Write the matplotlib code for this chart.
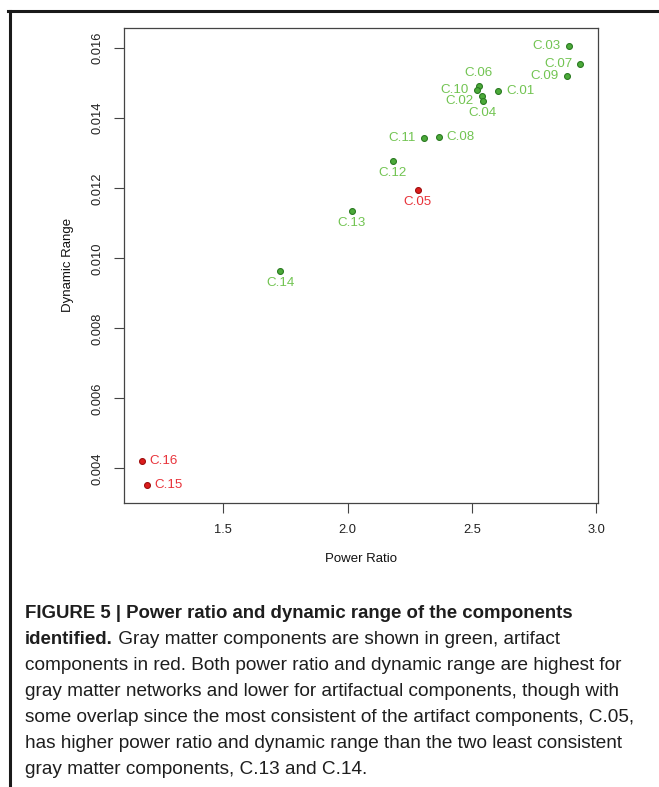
import numpy as np
import matplotlib.pyplot as plt
from matplotlib.lines import Line2D

# Component data
labels = ['C.01', 'C.02', 'C.03', 'C.04', 'C.05', 'C.06', 'C.07', 'C.08',
          'C.09', 'C.10', 'C.11', 'C.12', 'C.13', 'C.14', 'C.15', 'C.16']
power_ratio = [2.606, 2.541, 2.890, 2.544, 2.282, 2.527, 2.937, 2.366,
               2.882, 2.521, 2.306, 2.182, 2.017, 1.729, 1.191, 1.171]
dynamic_range = [0.014787, 0.014635, 0.016074, 0.014484, 0.011946, 0.014921,
                 0.015559, 0.013462, 0.015207, 0.014807, 0.013442, 0.012784,
                 0.011353, 0.009628, 0.003514, 0.004220]
is_artifact = [False, False, False, False, True, False, False, False,
               False, False, False, False, False, False, True, True]

# label side for each point (R "pos" style)
label_side = ['right', 'left', 'left', 'below', 'below', 'above', 'left', 'right',
              'left', 'left', 'left', 'below', 'below', 'below', 'right', 'right']

x_ticks = [1.5, 2.0, 2.5, 3.0]
y_ticks = [0.004, 0.006, 0.008, 0.010, 0.012, 0.014, 0.016]

green_fill, green_edge, green_text = '#4caa3a', '#2b7a22', '#72c452'
red_fill, red_edge, red_text = '#dc1c1c', '#9e1010', '#e8333a'

fig = plt.figure(figsize=(6.59, 7.87), dpi=100)
ax = fig.add_axes([124/659, 1 - 503/787, 474/659, 475/787])

x = np.array(power_ratio)
y = np.array(dynamic_range)
art = np.array(is_artifact)

ax.scatter(x[~art], y[~art], s=18, c=green_fill, edgecolors=green_edge, linewidths=0.8, zorder=3)
ax.scatter(x[art], y[art], s=18, c=red_fill, edgecolors=red_edge, linewidths=0.8, zorder=3)

offsets = {'left': (-5.8, 0, 'right', 'center'),
           'right': (5.8, 0, 'left', 'center'),
           'above': (0, 9.0, 'center', 'center'),
           'below': (0, -8.6, 'center', 'center')}
for i, lab in enumerate(labels):
    dx, dy, ha, va = offsets[label_side[i]]
    if lab == 'C.02':
        dy -= 3.5
    ax.annotate(lab, (x[i], y[i]), xytext=(dx, dy), textcoords='offset points',
                ha=ha, va=va, fontsize=9.6, family='Liberation Sans',
                color=red_text if is_artifact[i] else green_text)

# R style axis extension of 4%
xr = x.max() - x.min()
yr = y.max() - y.min()
ax.set_xlim(x.min() - 0.04 * xr, x.max() + 0.04 * xr)
ax.set_ylim(y.min() - 0.04 * yr, y.max() + 0.04 * yr)

ax.set_xticks(x_ticks)
ax.set_xticklabels(['%.1f' % t for t in x_ticks])
ax.set_yticks(y_ticks)
ax.set_yticklabels(['%.3f' % t for t in y_ticks], rotation=90, va='center')
ax.tick_params(direction='out', length=7, width=0.8, color='#444444',
               labelsize=9.3, labelcolor='#222222', pad=8)
for lab in ax.get_xticklabels() + ax.get_yticklabels():
    lab.set_family('Liberation Sans')
for sp in ax.spines.values():
    sp.set_color('#444444')
    sp.set_linewidth(0.9)

fig.text(361/659, 1 - 559/787, 'Power Ratio', ha='center', va='center',
         fontsize=9.5, family='Liberation Sans', color='#111111')
fig.text(68/659, 1 - 265/787, 'Dynamic Range', ha='center', va='center',
         rotation=90, fontsize=9.5, family='Liberation Sans', color='#111111')

# outer frame (top and left)
fig.add_artist(Line2D([8/659, 1], [1 - 10.5/787, 1 - 10.5/787], color='#1a1a1a', lw=2.2))
fig.add_artist(Line2D([9.5/659, 9.5/659], [0, 1 - 10.5/787], color='#1a1a1a', lw=2.2))

# caption
cap_font = 'Liberation Sans'
bold_size = 13.4
cap_size = 13.7
cap_color = '#1e1e1e'
x0 = 25/659
line_y = [613, 639, 665, 691, 717, 743, 769]
fig.text(x0, 1 - line_y[0]/787, 'FIGURE 5 | Power ratio and dynamic range of the components',
         ha='left', va='center', fontsize=bold_size, fontweight='bold', family=cap_font, color=cap_color)
bold2 = fig.text(x0, 1 - line_y[1]/787, 'identified.', ha='left', va='center', fontsize=bold_size,
                 fontweight='bold', family=cap_font, color=cap_color)
renderer = fig.canvas.get_renderer()
bb = bold2.get_window_extent(renderer)
fig.text(bb.x1 / fig.bbox.width, 1 - line_y[1]/787,
         ' Gray matter components are shown in green, artifact',
         ha='left', va='center', fontsize=cap_size, family=cap_font, color=cap_color)
rest = ['components in red. Both power ratio and dynamic range are highest for',
        'gray matter networks and lower for artifactual components, though with',
        'some overlap since the most consistent of the artifact components, C.05,',
        'has higher power ratio and dynamic range than the two least consistent',
        'gray matter components, C.13 and C.14.']
for yy, line in zip(line_y[2:], rest):
    fig.text(x0, 1 - yy/787, line, ha='left', va='center', fontsize=cap_size,
             family=cap_font, color=cap_color)

fig.savefig('out.png', dpi=100, facecolor='white')
